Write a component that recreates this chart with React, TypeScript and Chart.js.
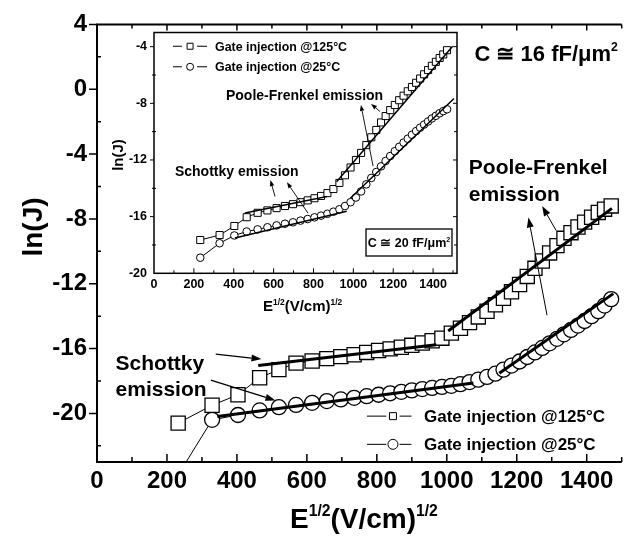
import React, { useEffect, useRef } from "react";
import { Chart, registerables } from "chart.js";

Chart.register(...registerables);

const FONT = '"Liberation Sans", Arial, Helvetica, sans-serif';

// E^(1/2) values, (V/cm)^(1/2)
const fieldRoot = [232, 329, 403, 465, 520, 569, 615, 657, 697, 735, 771, 805, 838, 870, 900, 930, 958, 986, 1013, 1039, 1065, 1090, 1115, 1139, 1162, 1185, 1208, 1230, 1252, 1273, 1294, 1315, 1335, 1355, 1375, 1394, 1414, 1433, 1451, 1470];

// main plot, C ~ 16 fF/um^2
const mainGate125 = [-20.6, -19.5, -18.85, -17.8, -17.3, -16.9, -16.77, -16.62, -16.5, -16.38, -16.24, -16.12, -16.02, -15.92, -15.8, -15.66, -15.52, -15.36, -15.05, -14.75, -14.4, -14.05, -13.7, -13.3, -12.9, -12.5, -12.05, -11.55, -11.05, -10.6, -10.1, -9.65, -9.2, -8.85, -8.5, -8.2, -7.9, -7.6, -7.4, -7.2];
const mainGate25 = [-23.8, -20.4, -20.1, -19.82, -19.62, -19.48, -19.35, -19.24, -19.14, -19.04, -18.94, -18.85, -18.76, -18.67, -18.58, -18.5, -18.43, -18.37, -18.3, -18.2, -18.07, -17.92, -17.75, -17.55, -17.3, -17.05, -16.8, -16.52, -16.24, -15.96, -15.68, -15.4, -15.12, -14.85, -14.58, -14.3, -14.0, -13.7, -13.35, -12.95];

// inset, C ~ 20 fF/um^2
const insetGate125 = [-17.65, -17.3, -16.66, -16.04, -15.73, -15.56, -15.4, -15.25, -15.12, -14.98, -14.85, -14.7, -14.54, -14.34, -14.05, -13.62, -13.08, -12.53, -12.0, -11.5, -10.95, -10.4, -9.88, -9.35, -8.9, -8.48, -8.12, -7.78, -7.46, -7.15, -6.85, -6.55, -6.25, -5.95, -5.65, -5.35, -5.07, -4.8, -4.55, -4.25];
const insetGate25 = [-18.9, -17.88, -17.33, -17.05, -16.9, -16.75, -16.62, -16.5, -16.4, -16.28, -16.17, -16.05, -15.93, -15.8, -15.65, -15.48, -15.25, -14.98, -14.65, -14.22, -13.72, -13.27, -12.85, -12.45, -12.07, -11.72, -11.38, -11.07, -10.77, -10.5, -10.22, -9.96, -9.72, -9.5, -9.28, -9.07, -8.88, -8.7, -8.55, -8.42];

// fitted straight lines: [x1, y1, x2, y2]
const mainFitSchottky125 = [461, -17.05, 970, -15.76];
const mainFitPF125 = [1004, -14.92, 1472, -7.35];
const mainFitSchottky25 = [344, -20.19, 1076, -18.13];
const mainFitPF25 = [1150, -17.53, 1476, -12.61];
const insetFitSchottky125 = [456, -15.74, 868, -14.58];
const insetFitPF125 = [916, -13.54, 1498, -3.97];
const insetFitSchottky25 = [406, -17.51, 967, -15.62];
const insetFitPF25 = [985, -14.7, 1505, -7.66];

const mainXTicks = [0, 200, 400, 600, 800, 1000, 1200, 1400];
const mainYTicks = [-20, -16, -12, -8, -4, 0, 4];
const insetXTicks = [0, 200, 400, 600, 800, 1000, 1200, 1400];
const insetYTicks = [-20, -16, -12, -8, -4];

const legendLabels = ["Gate injection @125°C", "Gate injection @25°C"];

const bold = (s: number) => `bold ${s}px ${FONT}`;

type Part = [string, boolean];

function drawRich(ctx: CanvasRenderingContext2D, parts: Part[], x: number, cy: number, size: number, align: "left" | "center" = "left") {
  const supSize = size * 0.56;
  let total = 0;
  const widths = parts.map(([t, sup]) => {
    ctx.font = bold(sup ? supSize : size);
    const w = ctx.measureText(t).width;
    total += w;
    return w;
  });
  let cx = align === "center" ? x - total / 2 : x;
  const base = cy + size * 0.36;
  ctx.textAlign = "left";
  ctx.textBaseline = "alphabetic";
  parts.forEach(([t, sup], i) => {
    ctx.font = bold(sup ? supSize : size);
    ctx.fillText(t, cx, sup ? base - size * 0.42 : base);
    cx += widths[i];
  });
  return total;
}

function arrow(ctx: CanvasRenderingContext2D, x1: number, y1: number, x2: number, y2: number, len: number, half: number, lw: number) {
  const a = Math.atan2(y2 - y1, x2 - x1);
  const bx = x2 - len * Math.cos(a);
  const by = y2 - len * Math.sin(a);
  ctx.lineWidth = lw;
  ctx.beginPath();
  ctx.moveTo(x1, y1);
  ctx.lineTo(bx, by);
  ctx.stroke();
  ctx.beginPath();
  ctx.moveTo(x2, y2);
  ctx.lineTo(bx + half * Math.sin(a), by - half * Math.cos(a));
  ctx.lineTo(bx - half * Math.sin(a), by + half * Math.cos(a));
  ctx.closePath();
  ctx.fill();
}

function legendRow(ctx: CanvasRenderingContext2D, kind: "rect" | "circle", y: number, l0: number, l1: number, mx: number, r0: number, r1: number, size: number, tx: number, label: string, fs: number) {
  ctx.lineWidth = 1;
  ctx.beginPath();
  ctx.moveTo(l0, y);
  ctx.lineTo(l1, y);
  ctx.moveTo(r0, y);
  ctx.lineTo(r1, y);
  ctx.stroke();
  ctx.fillStyle = "#fff";
  ctx.beginPath();
  if (kind === "rect") ctx.rect(mx - size / 2, y - size / 2, size, size);
  else ctx.arc(mx, y, size / 2, 0, Math.PI * 2);
  ctx.fill();
  ctx.stroke();
  ctx.fillStyle = "#000";
  drawRich(ctx, [[label, false]], tx, y, fs);
}

const mainDecor = {
  id: "mainDecor",
  afterDraw(chart: any) {
    const ctx: CanvasRenderingContext2D = chart.ctx;
    const { left, right, top, bottom } = chart.chartArea;
    const px = (v: number) => chart.scales.x.getPixelForValue(v);
    const py = (v: number) => chart.scales.y.getPixelForValue(v);
    ctx.save();
    ctx.strokeStyle = "#000";
    ctx.fillStyle = "#000";
    ctx.lineWidth = 2;
    ctx.beginPath();
    ctx.moveTo(right, top);
    ctx.lineTo(left, top);
    ctx.lineTo(left, bottom);
    ctx.lineTo(right, bottom);
    ctx.stroke();
    ctx.lineWidth = 1.5;
    ctx.beginPath();
    for (let v = 0; v <= 1500; v += 100) {
      const major = v % 200 === 0;
      const x = px(v);
      ctx.moveTo(x, bottom);
      ctx.lineTo(x, bottom - (major ? 8 : 5));
      ctx.moveTo(x, top);
      ctx.lineTo(x, top + (major ? 6 : 4));
    }
    for (let v = -22; v <= 4; v += 2) {
      const y = py(v);
      if (v % 4 === 0) {
        ctx.moveTo(left - 8, y);
        ctx.lineTo(left, y);
      } else {
        ctx.moveTo(left, y);
        ctx.lineTo(left + 4, y);
      }
    }
    ctx.stroke();

    // annotations
    drawRich(ctx, [["Poole-Frenkel", false]], px(1063), py(-4.74), 21);
    drawRich(ctx, [["emission", false]], px(1063), py(-6.43), 21);
    drawRich(ctx, [["Schottky", false]], px(53), py(-16.85), 21);
    drawRich(ctx, [["emission", false]], px(53), py(-18.48), 21);
    drawRich(ctx, [["C \u2245 16 fF/\u03bcm", false], ["2", true]], px(1079), py(2.25), 22);

    arrow(ctx, px(1286.5), py(-13.94), px(1233.4), py(-7.91), 10, 3.5, 1);
    arrow(ctx, px(1312.6), py(-8.72), px(1272.5), py(-7.21), 10, 3.5, 1);
    arrow(ctx, px(339.5), py(-16.35), px(470.2), py(-16.65), 10, 3.5, 1.3);
    arrow(ctx, px(325.5), py(-17.95), px(510), py(-19.2), 10, 3.5, 1.3);

    // legend
    legendRow(ctx, "rect", py(-20.17), px(771.6), px(827), px(846), px(865), px(899), 7, px(934.7), legendLabels[0], 17);
    legendRow(ctx, "circle", py(-21.91), px(771.6), px(827), px(846), px(865), px(899), 10, px(934.7), legendLabels[1], 17);

    // axis titles
    drawRich(ctx, [["E", false], ["1/2", true], ["(V/cm)", false], ["1/2", true]], 290, 518, 28);
    ctx.save();
    ctx.translate(32, 227);
    ctx.rotate(-Math.PI / 2);
    drawRich(ctx, [["ln(J)", false]], 0, 0, 28, "center");
    ctx.restore();
    ctx.restore();
  },
};

const insetDecor = {
  id: "insetDecor",
  afterDraw(chart: any) {
    const ctx: CanvasRenderingContext2D = chart.ctx;
    const { left, right, top, bottom } = chart.chartArea;
    const px = (v: number) => chart.scales.x.getPixelForValue(v);
    const py = (v: number) => chart.scales.y.getPixelForValue(v);
    ctx.save();
    ctx.strokeStyle = "#000";
    ctx.fillStyle = "#000";
    ctx.lineWidth = 1.5;
    ctx.strokeRect(left, top, right - left, bottom - top);
    ctx.lineWidth = 1;
    ctx.beginPath();
    for (let v = 100; v <= 1500; v += 100) {
      const major = v % 200 === 0;
      const x = px(v);
      ctx.moveTo(x, bottom);
      ctx.lineTo(x, bottom - (major ? 5 : 3));
    }
    for (let v = -18; v <= -4; v += 2) {
      const y = py(v);
      if (v % 4 === 0) {
        ctx.moveTo(left - 4, y);
        ctx.lineTo(left, y);
        ctx.moveTo(right, y);
        ctx.lineTo(right - 4, y);
      } else {
        ctx.moveTo(left - 2, y);
        ctx.lineTo(left + 2, y);
        ctx.moveTo(right, y);
        ctx.lineTo(right - 3, y);
      }
    }
    ctx.stroke();

    legendRow(ctx, "rect", py(-3.97), px(95), px(140), px(181), px(216), px(266), 6, px(306), legendLabels[0], 12.4);
    legendRow(ctx, "circle", py(-5.42), px(95), px(140), px(181), px(216), px(266), 7, px(306), legendLabels[1], 12.4);

    drawRich(ctx, [["Poole-Frenkel emission", false]], px(361), py(-7.38), 14);
    drawRich(ctx, [["Schottky emission", false]], px(105), py(-12.8), 14);

    arrow(ctx, px(1099), py(-12.43), px(1038), py(-8.11), 6, 2.2, 0.9);
    arrow(ctx, px(1134), py(-8.58), px(1089), py(-8.04), 6, 2.2, 0.9);
    arrow(ctx, px(607), py(-14.58), px(584), py(-13.42), 6, 2.2, 0.9);
    arrow(ctx, px(773), py(-15.76), px(667), py(-13.58), 6, 2.2, 0.9);

    // capacitance box
    const boxRight = right - 5;
    const boxBottom = bottom - 17.3;
    const boxTop = boxBottom - 27;
    const boxW = 86;
    ctx.fillStyle = "#fff";
    ctx.fillRect(boxRight - boxW, boxTop, boxW, boxBottom - boxTop);
    ctx.fillStyle = "#000";
    ctx.lineWidth = 1.3;
    ctx.strokeRect(boxRight - boxW, boxTop, boxW, boxBottom - boxTop);
    drawRich(ctx, [["C \u2245 20 fF/\u03bcm", false], ["2", true]], boxRight - boxW / 2, (boxTop + boxBottom) / 2, 12.5, "center");

    // axis titles
    drawRich(ctx, [["E", false], ["1/2", true], ["(V/cm)", false], ["1/2", true]], 163, 288, 15);
    ctx.save();
    ctx.translate(18, 137);
    ctx.rotate(-Math.PI / 2);
    drawRich(ctx, [["ln(J)", false]], 0, 0, 15, "center");
    ctx.restore();
    ctx.restore();
  },
};

const fitDs = (seg: number[], w: number) => ({
  data: [{ x: seg[0], y: seg[1] }, { x: seg[2], y: seg[3] }],
  showLine: true,
  borderColor: "#000",
  borderWidth: w,
  pointRadius: 0,
  order: 0,
});

const seriesDs = (ys: number[], style: string, r: number, bw: number) => ({
  data: fieldRoot.map((x, i) => ({ x, y: ys[i] })),
  showLine: true,
  borderColor: "#000",
  borderWidth: 1,
  pointStyle: style,
  pointRadius: r,
  pointBackgroundColor: "#fff",
  pointBorderColor: "#000",
  pointBorderWidth: bw,
  order: 1,
});

function axis(min: number, max: number, ticks: number[], size: number, padding: number, fit: (s: any) => void) {
  return {
    type: "linear",
    min,
    max,
    grid: { display: false, drawTicks: false },
    border: { display: false },
    ticks: {
      color: "#000",
      font: { family: FONT, size, weight: "bold" },
      padding,
      autoSkip: false,
      maxRotation: 0,
      minRotation: 0,
      callback: (v: any) => String(v),
    },
    afterBuildTicks: (s: any) => {
      s.ticks = ticks.map((v) => ({ value: v }));
    },
    afterFit: fit,
  };
}

export default function App() {
  const mainRef = useRef<HTMLCanvasElement>(null);
  const insetRef = useRef<HTMLCanvasElement>(null);

  useEffect(() => {
    document.body.style.margin = "0";
    const main = new Chart(mainRef.current as HTMLCanvasElement, {
      type: "scatter",
      data: {
        datasets: [
          fitDs(mainFitSchottky125, 3),
          fitDs(mainFitPF125, 3),
          fitDs(mainFitSchottky25, 3),
          fitDs(mainFitPF25, 3),
          seriesDs(mainGate125, "rect", 10, 1.3),
          seriesDs(mainGate25, "circle", 7.5, 1.3),
        ] as any,
      },
      options: {
        animation: false,
        responsive: false,
        devicePixelRatio: 1,
        events: [],
        layout: { padding: { top: 14, right: 0, bottom: 0, left: 0 } },
        plugins: { legend: { display: false }, tooltip: { enabled: false } },
        scales: {
          x: axis(0, 1500, mainXTicks, 24, 5, (s: any) => { s.height = 75; }),
          y: axis(-23, 4, mainYTicks, 24, 10, (s: any) => { s.width = 97; }),
        } as any,
      },
      plugins: [mainDecor],
    });
    const inset = new Chart(insetRef.current as HTMLCanvasElement, {
      type: "scatter",
      data: {
        datasets: [
          fitDs(insetFitSchottky125, 1.5),
          fitDs(insetFitPF125, 1.5),
          fitDs(insetFitSchottky25, 1.5),
          fitDs(insetFitPF25, 1.5),
          seriesDs(insetGate125, "rect", 5, 1),
          seriesDs(insetGate25, "circle", 3.8, 1),
        ] as any,
      },
      options: {
        animation: false,
        responsive: false,
        devicePixelRatio: 1,
        events: [],
        layout: { padding: { top: 9.7, right: 8, bottom: 0, left: 0 } },
        plugins: { legend: { display: false }, tooltip: { enabled: false } },
        scales: {
          x: axis(0, 1520, insetXTicks, 12.5, 4, (s: any) => { s.height = 44.7; }),
          y: axis(-20, -3, insetYTicks, 12.5, 7, (s: any) => { s.width = 54; }),
        } as any,
      },
      plugins: [insetDecor],
    });
    return () => {
      main.destroy();
      inset.destroy();
    };
  }, []);

  return (
    <div style={{ position: "relative", width: 633, height: 537, background: "#fff" }}>
      <canvas ref={mainRef} width={633} height={537} style={{ position: "absolute", left: 0, top: 0, width: 633, height: 537 }} />
      <canvas ref={insetRef} width={365} height={300} style={{ position: "absolute", left: 100, top: 18, width: 365, height: 300 }} />
    </div>
  );
}
